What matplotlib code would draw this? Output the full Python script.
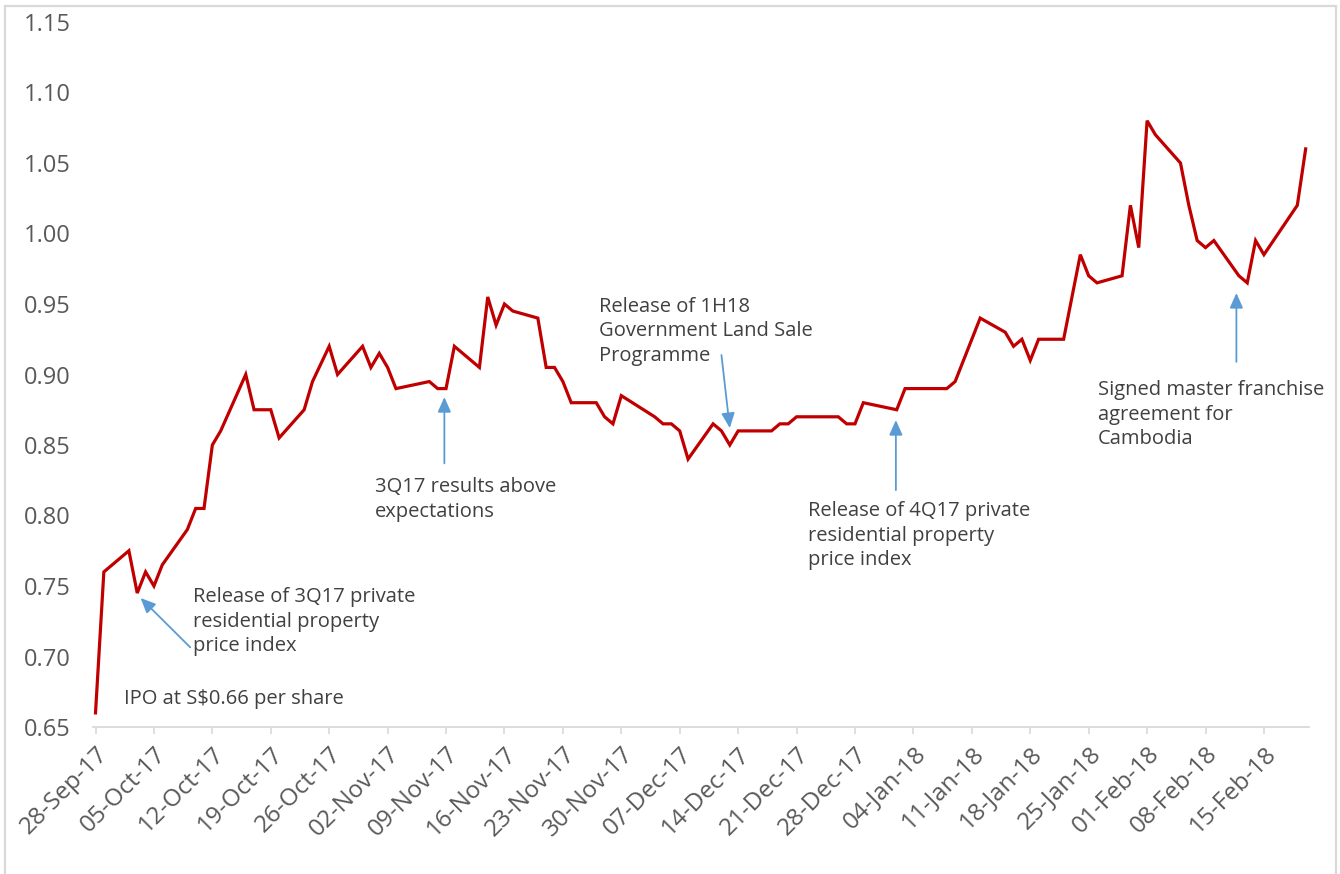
import matplotlib
matplotlib.use("Agg")
import matplotlib.pyplot as plt
import matplotlib.dates as mdates
from matplotlib.patches import Rectangle
import numpy as np
import pandas as pd

# ---------------- data ----------------
dates = [
    "2017-09-28", "2017-09-29", "2017-10-02", "2017-10-03", "2017-10-04", "2017-10-05",
    "2017-10-06", "2017-10-09", "2017-10-10", "2017-10-11", "2017-10-12", "2017-10-13",
    "2017-10-16", "2017-10-17", "2017-10-19", "2017-10-20", "2017-10-23", "2017-10-24",
    "2017-10-26", "2017-10-27", "2017-10-30", "2017-10-31", "2017-11-01", "2017-11-02",
    "2017-11-03", "2017-11-07", "2017-11-08", "2017-11-09", "2017-11-10", "2017-11-13",
    "2017-11-14", "2017-11-15", "2017-11-16", "2017-11-17", "2017-11-20", "2017-11-21",
    "2017-11-22", "2017-11-23", "2017-11-24", "2017-11-27", "2017-11-28", "2017-11-29",
    "2017-11-30", "2017-12-04", "2017-12-05", "2017-12-06", "2017-12-07", "2017-12-08",
    "2017-12-11", "2017-12-12", "2017-12-13", "2017-12-14", "2017-12-18", "2017-12-19",
    "2017-12-20", "2017-12-21", "2017-12-26", "2017-12-27", "2017-12-28", "2017-12-29",
    "2018-01-02", "2018-01-03", "2018-01-08", "2018-01-09", "2018-01-12", "2018-01-15",
    "2018-01-16", "2018-01-17", "2018-01-18", "2018-01-19", "2018-01-22", "2018-01-24",
    "2018-01-25", "2018-01-26", "2018-01-29", "2018-01-30", "2018-01-31", "2018-02-01",
    "2018-02-02", "2018-02-05", "2018-02-06", "2018-02-07", "2018-02-08", "2018-02-09",
    "2018-02-12", "2018-02-13", "2018-02-14", "2018-02-15", "2018-02-19", "2018-02-20",
]
prices = [
    0.66, 0.76, 0.775, 0.745, 0.76, 0.75,
    0.765, 0.79, 0.805, 0.805, 0.85, 0.86,
    0.90, 0.875, 0.875, 0.855, 0.875, 0.895,
    0.92, 0.90, 0.92, 0.905, 0.915, 0.905,
    0.89, 0.895, 0.89, 0.89, 0.92, 0.905,
    0.955, 0.935, 0.95, 0.945, 0.94, 0.905,
    0.905, 0.895, 0.88, 0.88, 0.87, 0.865,
    0.885, 0.87, 0.865, 0.865, 0.86, 0.84,
    0.865, 0.86, 0.85, 0.86, 0.86, 0.865,
    0.865, 0.87, 0.87, 0.865, 0.865, 0.88,
    0.875, 0.89, 0.89, 0.895, 0.94, 0.93,
    0.92, 0.925, 0.91, 0.925, 0.925, 0.985,
    0.97, 0.965, 0.97, 1.02, 0.99, 1.08,
    1.07, 1.05, 1.02, 0.995, 0.99, 0.995,
    0.97, 0.965, 0.995, 0.985, 1.02, 1.06,
]
tick_dates = pd.date_range("2017-09-28", "2018-02-15", freq="7D")
y_ticks = [0.65, 0.70, 0.75, 0.80, 0.85, 0.90, 0.95, 1.00, 1.05, 1.10, 1.15]

annotations = [
    # text, text (day offset, value), arrow tail (day, value), arrow head (day, value)
    ("IPO at S$0.66 per share", (3.4, 0.6768), None, None),
    ("Release of 3Q17 private\nresidential property\nprice index", (11.7, 0.749), (11.35, 0.7065), (5.4, 0.7415)),
    ("3Q17 results above\nexpectations", (33.45, 0.827), (41.8, 0.837), (41.8, 0.884)),
    ("Release of 1H18\nGovernment Land Sale\nProgramme", (60.3, 0.955), (75.0, 0.9138), (76.0, 0.862)),
    ("Release of 4Q17 private\nresidential property\nprice index", (85.4, 0.810), (95.9, 0.818), (95.9, 0.8677)),
    ("Signed master franchise\nagreement for\nCambodia", (120.1, 0.896), (136.7, 0.909), (136.7, 0.9578)),
]

# ---------------- plot ----------------
plt.rcParams['font.family'] = ['Open Sans', 'DejaVu Sans']
W, H = 1340, 874
fig = plt.figure(figsize=(W / 100, H / 100), dpi=100)
fig.patch.set_facecolor("white")

ax = fig.add_axes([93 / W, 1 - 727 / H, (1309 - 93) / W, (727 - 22) / H])

x = pd.to_datetime(dates)
ax.plot(x, prices, color="#C00000", lw=2.3, solid_joinstyle="miter", zorder=3)

start = pd.Timestamp("2017-09-28")
ax.set_xlim(start - pd.Timedelta(days=0.3), pd.Timestamp("2018-02-20") + pd.Timedelta(days=0.4))
ax.set_ylim(0.65, 1.15)

ax.set_yticks(y_ticks)
ax.set_yticklabels([f"{v:.2f}" for v in y_ticks])
ax.tick_params(axis="y", length=0, pad=16, labelsize=17, labelcolor="#595959")

ax.set_xticks(tick_dates)
ax.set_xticklabels([d.strftime("%d-%b-%y") for d in tick_dates], rotation=45,
                   ha="right", rotation_mode="anchor")
ax.tick_params(axis="x", direction="out", length=5, width=1.2, color="#D9D9D9",
               pad=6, labelsize=17.5, labelcolor="#595959")

for s in ["left", "right", "top"]:
    ax.spines[s].set_visible(False)
ax.spines["bottom"].set_color("#D9D9D9")
ax.spines["bottom"].set_linewidth(1.3)

arrow_color = "#5B9BD5"
for text, tpos, tail, head in annotations:
    tx = start + pd.Timedelta(days=tpos[0])
    ax.text(tx, tpos[1], text, ha="left", va="top", fontsize=14.5, color="#404040",
            linespacing=1.3, zorder=4)
    if tail is not None:
        ax.annotate("", xy=(start + pd.Timedelta(days=head[0]), head[1]),
                    xytext=(start + pd.Timedelta(days=tail[0]), tail[1]),
                    arrowprops=dict(arrowstyle="-|>,head_length=0.45,head_width=0.2",
                                    color=arrow_color, lw=1.3, shrinkA=0, shrinkB=0,
                                    mutation_scale=20), zorder=4)

# outer light frame
fig.add_artist(Rectangle((5 / W, -0.02), (1336 - 5) / W, 1 - 6 / H + 0.02,
                         transform=fig.transFigure, fill=False, edgecolor="#D9D9D9",
                         lw=1.6, clip_on=False))

fig.savefig("out.png", dpi=100)
